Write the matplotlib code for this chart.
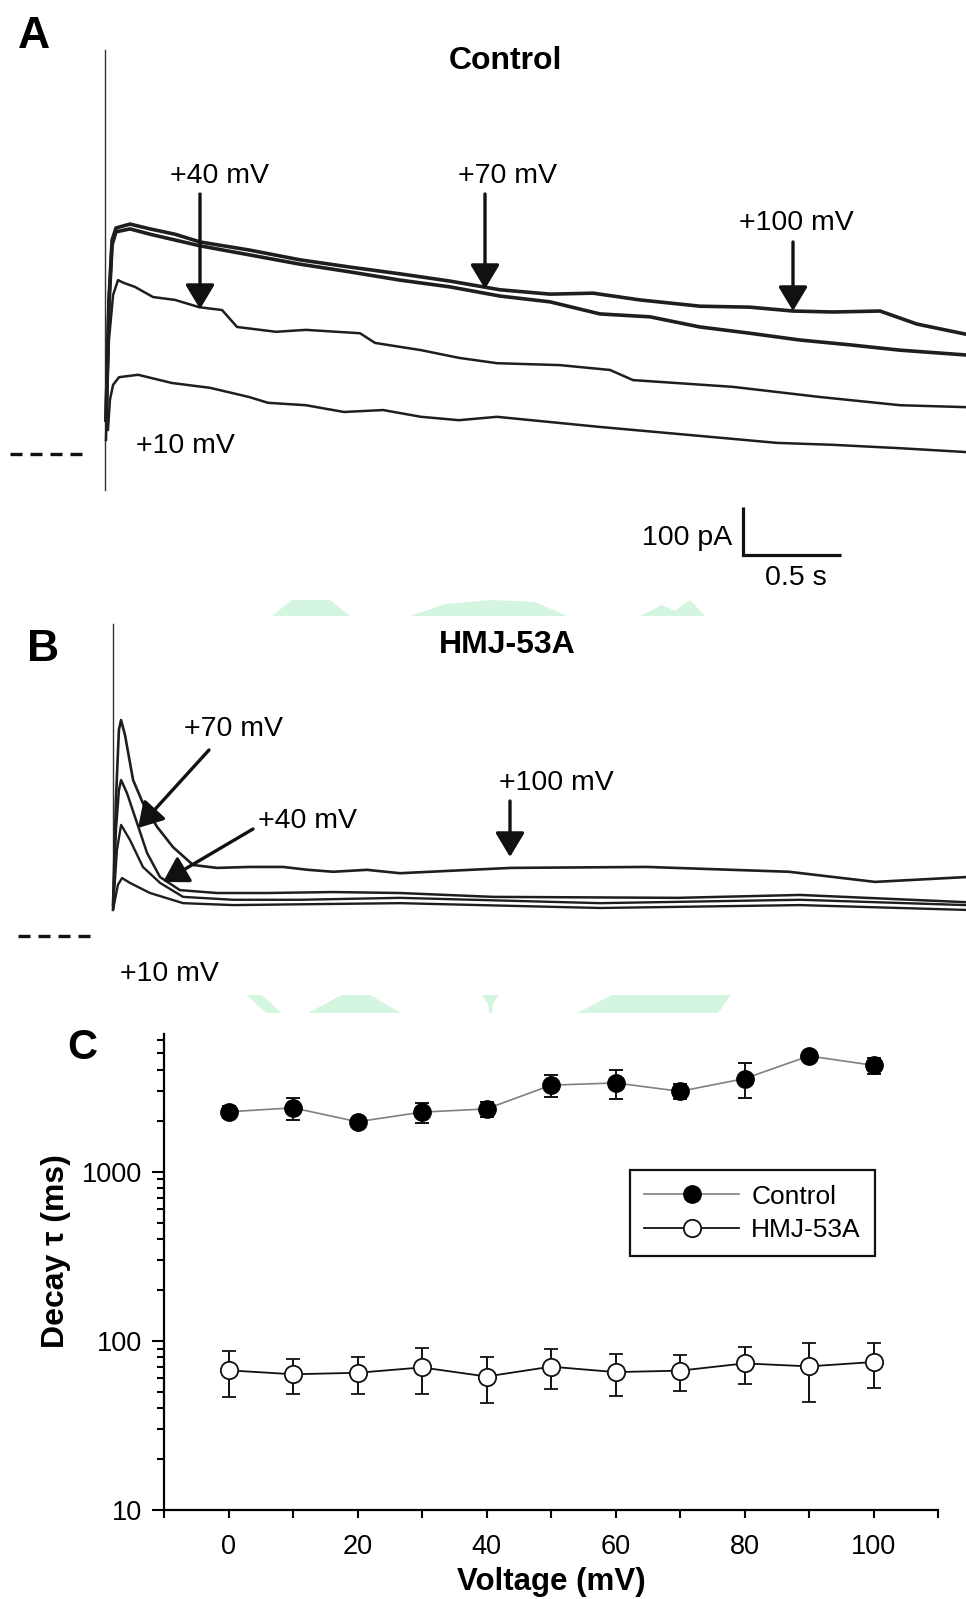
import matplotlib
matplotlib.use("Agg")
import matplotlib.pyplot as plt
from matplotlib.lines import Line2D
from matplotlib.patches import Polygon
from matplotlib.ticker import FixedLocator, NullFormatter, LogLocator

plt.rcParams['font.family'] = ['Liberation Sans', 'DejaVu Sans']

# ---------------- Panel A: control currents (time in s, current in pA) ----------------
a_100_t = [0.005, 0.020, 0.036, 0.056, 0.127, 0.229, 0.356, 0.483, 0.737, 0.991, 1.245, 1.499,
           1.753, 2.007, 2.261, 2.480, 2.718, 3.023, 3.277, 3.496, 3.699, 3.938, 4.126, 4.375]
a_100_i = [70, 319, 443, 468, 476, 466, 455, 439, 422, 402, 387, 373,
           358, 340, 331, 333, 319, 306, 304, 296, 294, 296, 269, 248]

a_70_t = [0.005, 0.020, 0.036, 0.056, 0.127, 0.229, 0.483, 0.737, 0.991, 1.245, 1.499, 1.753,
          2.007, 2.261, 2.515, 2.769, 3.023, 3.277, 3.531, 3.785, 4.039, 4.375]
a_70_i = [70, 308, 433, 460, 466, 455, 431, 412, 393, 377, 360, 346,
          327, 315, 290, 284, 263, 250, 236, 226, 215, 205]

a_40_t = [0.005, 0.020, 0.041, 0.066, 0.097, 0.152, 0.244, 0.356, 0.478, 0.595, 0.671, 0.869,
          1.021, 1.296, 1.372, 1.606, 1.799, 1.992, 2.312, 2.566, 2.683, 3.191, 3.633, 4.040, 4.375]
a_40_i = [29, 236, 329, 360, 354, 346, 325, 319, 304, 298, 263, 253,
          257, 250, 230, 215, 199, 188, 184, 174, 153, 139, 118, 101, 97]

a_10_t = [0.015, 0.025, 0.041, 0.071, 0.168, 0.340, 0.534, 0.732, 0.828, 1.021, 1.214, 1.413,
          1.606, 1.799, 1.992, 2.515, 3.089, 3.415, 3.699, 4.040, 4.375]
a_10_i = [50, 112, 143, 159, 164, 147, 137, 118, 106, 101, 87, 91,
          77, 70, 77, 56, 35, 23, 19, 12, 4]

# capacitive transient at pulse onset (pA)
a_artifact_i = [-75, 836]

# ---------------- Panel B: HMJ-53A currents ----------------
b_100_t = [0.0, 0.015, 0.030, 0.041, 0.061, 0.102, 0.152, 0.224, 0.305, 0.407, 0.529, 0.696,
           0.864, 0.991, 1.118, 1.291, 1.458, 2.022, 2.713, 3.435, 3.872, 4.334]
b_100_i = [64, 282, 427, 447, 416, 323, 275, 226, 184, 147, 141, 143,
           143, 137, 133, 137, 130, 141, 143, 133, 112, 122]

b_70_t = [0.0, 0.015, 0.030, 0.041, 0.071, 0.122, 0.173, 0.239, 0.340, 0.528, 0.783, 1.118,
          1.458, 1.931, 2.871, 3.491, 4.334]
b_70_i = [58, 220, 302, 323, 296, 234, 172, 122, 95, 89, 89, 91,
          89, 81, 79, 85, 70]

b_40_t = [0.0, 0.020, 0.041, 0.086, 0.152, 0.239, 0.356, 0.610, 0.950, 1.458, 2.475, 3.491, 4.334]
b_40_i = [54, 178, 230, 199, 143, 110, 81, 75, 75, 79, 68, 75, 64]

b_10_t = [0.0, 0.025, 0.046, 0.086, 0.188, 0.356, 0.610, 1.458, 2.475, 3.491, 4.334]
b_10_i = [54, 106, 120, 110, 89, 68, 64, 68, 58, 64, 54]

b_artifact_i = [58, 646]

# ---------------- Panel C: decay time constants ----------------
voltage = [0, 10, 20, 30, 40, 50, 60, 70, 80, 90, 100]
tau_control = [2255, 2380, 1970, 2245, 2345, 3240, 3340, 2980, 3540, 4820, 4245]
tau_control_err = [190, 350, 80, 310, 230, 500, 650, 300, 830, 200, 450]
tau_hmj = [66.9, 63.4, 64.7, 69.6, 61.5, 70.3, 65.3, 66.6, 73.5, 70.6, 74.9]
tau_hmj_err = [20.5, 15.0, 16.0, 21.0, 18.5, 18.7, 18.0, 16.0, 18.0, 27.0, 22.0]

x_major = [0, 20, 40, 60, 80, 100]
y_major = [10, 100, 1000]
y_major_labels = ['10', '100', '1000']

# scale bar (s, pA)
bar_time = 0.5
bar_current = 100

# ---------------- figure ----------------
W, H = 966, 1599
fig = plt.figure(figsize=(W / 100, H / 100), dpi=100)
fig.patch.set_facecolor('white')


def fx(px):
    return px / W


def fy(py):
    return 1 - py / H


PX_PER_S = 196.8
PX_PER_PA = 0.483
TRACE = '#1e1e1e'
ANN_FS = 20.5

# faint watermark fragments between panels
mint = '#d4f5df'
wm_shapes = [
    [(272, 616), (292, 600), (330, 600), (350, 616)],
    [(410, 616), (445, 604), (490, 600), (535, 602), (567, 616)],
    [(640, 616), (662, 605), (675, 611), (690, 600), (705, 616)],
    [(247, 995), (262, 995), (281, 1013), (266, 1013)],
    [(308, 1013), (342, 995), (370, 995), (401, 1013)],
    [(482, 995), (499, 995), (493, 1004), (492, 1013), (489, 1013), (488, 1004)],
    [(577, 1013), (612, 995), (731, 995), (718, 1013)],
]
for shp in wm_shapes:
    fig.patches.append(Polygon([(fx(x), fy(y)) for x, y in shp], closed=True,
                               transform=fig.transFigure, facecolor=mint,
                               edgecolor='none', zorder=0))


def trace_axes(top_px, bottom_px, origin_x, baseline_y):
    ax = fig.add_axes([0, fy(bottom_px), 1, (bottom_px - top_px) / H])
    ax.set_xlim(-origin_x / PX_PER_S, (W - origin_x) / PX_PER_S)
    ax.set_ylim((baseline_y - bottom_px) / PX_PER_PA, (baseline_y - top_px) / PX_PER_PA)
    ax.axis('off')
    ax.patch.set_alpha(0)
    return ax


def arrow(ax, text_xy, start, tip, label, fs=ANN_FS):
    ax.text(*text_xy, label, fontsize=fs, ha='center', va='center')
    ax.annotate('', xy=tip, xytext=start,
                arrowprops=dict(arrowstyle='-|>,head_length=0.75,head_width=0.45',
                                lw=2.4, color='#111111', mutation_scale=20,
                                shrinkA=0, shrinkB=0))


def px_to_data(ox, by, x, y):
    return ((x - ox) / PX_PER_S, (by - y) / PX_PER_PA)


DASH = (0, (3.6, 2.4))

# ---- Panel A ----
OA_X, OA_Y = 105, 454
axA = trace_axes(30, 590, OA_X, OA_Y)
axA.plot([0, 0], a_artifact_i, color='#333333', lw=1.0)
for t, i, lw in [(a_10_t, a_10_i, 1.8), (a_40_t, a_40_i, 1.8),
                 (a_70_t, a_70_i, 2.6), (a_100_t, a_100_i, 2.6)]:
    axA.plot(t, i, color=TRACE, lw=lw, solid_joinstyle='round')
pA = lambda x, y: px_to_data(OA_X, OA_Y, x, y)
axA.plot([pA(10, 0)[0], pA(83, 0)[0]], [0, 0], color='#111111', lw=2.4, linestyle=DASH)
axA.text(*pA(505, 61), 'Control', fontsize=23, fontweight='bold', ha='center', va='center')
arrow(axA, pA(219, 176), pA(200, 194), pA(200, 309), '+40 mV')
arrow(axA, pA(507, 176), pA(485, 194), pA(485, 289), '+70 mV')
arrow(axA, pA(796, 223), pA(793, 242), pA(793, 311), '+100 mV')
axA.text(*pA(185, 446), '+10 mV', fontsize=ANN_FS, ha='center', va='center')
# scale bar
bx0, by0 = pA(743, 555)
axA.plot([bx0, bx0, bx0 + bar_time], [by0 + bar_current, by0, by0],
         color='#111111', lw=2.3, solid_joinstyle='miter', solid_capstyle='butt')
axA.text(bx0 - 0.055, by0 + bar_current * 0.36, '100 pA', fontsize=ANN_FS, ha='right', va='center')
axA.text(bx0 + bar_time / 2 + 0.02, by0 - 47, '0.5 s', fontsize=ANN_FS, ha='center', va='center')

# ---- Panel B ----
OB_X, OB_Y = 113, 936
axB = trace_axes(600, 985, OB_X, OB_Y)
axB.plot([0, 0], b_artifact_i, color='#333333', lw=1.0)
for t, i, lw in [(b_10_t, b_10_i, 1.7), (b_40_t, b_40_i, 1.7),
                 (b_70_t, b_70_i, 1.8), (b_100_t, b_100_i, 1.9)]:
    axB.plot(t, i, color=TRACE, lw=lw, solid_joinstyle='round')
pB = lambda x, y: px_to_data(OB_X, OB_Y, x, y)
axB.plot([pB(18, 0)[0], pB(93, 0)[0]], [0, 0], color='#111111', lw=2.4, linestyle=DASH)
axB.text(*pB(507, 645), 'HMJ-53A', fontsize=23, fontweight='bold', ha='center', va='center')
arrow(axB, pB(234, 729), pB(209, 750), pB(138, 828), '+70 mV')
arrow(axB, pB(308, 821), pB(253, 829), pB(163, 882), '+40 mV')
arrow(axB, pB(556, 783), pB(510, 801), pB(510, 857), '+100 mV')
axB.text(*pB(169, 974), '+10 mV', fontsize=ANN_FS, ha='center', va='center')

# panel letters
for (x, y, s, fs) in [(34, 37, 'A', 32), (43, 649, 'B', 32), (82, 1048, 'C', 30)]:
    fig.text(fx(x), fy(y), s, fontsize=fs, fontweight='bold', ha='center', va='center')

# ---- Panel C ----
axC = fig.add_axes([fx(164), fy(1510), (938 - 164) / W, (1510 - 1034) / H])
axC.set_yscale('log')
axC.plot(voltage, tau_control, color='#808080', lw=1.2, zorder=2)
axC.errorbar(voltage, tau_control, yerr=tau_control_err, fmt='o', ms=12.5,
             mfc='black', mec='black', ecolor='#111111', elinewidth=1.4,
             capsize=5, capthick=1.4, zorder=3)
axC.plot(voltage, tau_hmj, color='#111111', lw=1.3, zorder=2)
axC.errorbar(voltage, tau_hmj, yerr=tau_hmj_err, fmt='o', ms=12.5,
             mfc='white', mec='#111111', mew=1.3, ecolor='#111111', elinewidth=1.4,
             capsize=5, capthick=1.4, zorder=3)
axC.set_xlim(-10, 110)
axC.set_ylim(10, 6500)
for side in ('top', 'right'):
    axC.spines[side].set_visible(False)
for side in ('left', 'bottom'):
    axC.spines[side].set_linewidth(1.6)
axC.xaxis.set_major_locator(FixedLocator(x_major))
axC.xaxis.set_minor_locator(FixedLocator(list(range(-10, 111, 10))))
axC.yaxis.set_major_locator(FixedLocator(y_major))
axC.set_yticklabels(y_major_labels)
axC.yaxis.set_minor_locator(LogLocator(base=10, subs=[2, 3, 4, 5, 6, 7, 8, 9]))
axC.yaxis.set_minor_formatter(NullFormatter())
axC.tick_params(axis='both', which='both', direction='out', width=1.5, labelsize=19.5)
axC.tick_params(axis='x', which='both', length=6, pad=11)
axC.tick_params(axis='y', which='major', length=9, pad=7)
axC.tick_params(axis='y', which='minor', length=5)
axC.set_xlabel('Voltage (mV)', fontsize=22.5, fontweight='bold', labelpad=5)
axC.set_ylabel('Decay τ (ms)', fontsize=23, fontweight='bold')
axC.yaxis.set_label_coords(-0.12, 0.545)

handles = [
    Line2D([], [], color='#808080', lw=1.2, marker='o', ms=12.5, mfc='black', mec='black'),
    Line2D([], [], color='#111111', lw=1.3, marker='o', ms=12.5, mfc='white', mec='#111111', mew=1.3),
]
leg = axC.legend(handles, ['Control', 'HMJ-53A'], loc='upper left',
                 bbox_to_anchor=(0.602, 0.714), fontsize=19, frameon=True,
                 fancybox=False, edgecolor='#111111', framealpha=1,
                 handlelength=3.6, handletextpad=0.45, borderpad=0.55,
                 labelspacing=0.35, borderaxespad=0)
leg.get_frame().set_linewidth(1.6)

fig.savefig('out.png', dpi=100, facecolor='white')
